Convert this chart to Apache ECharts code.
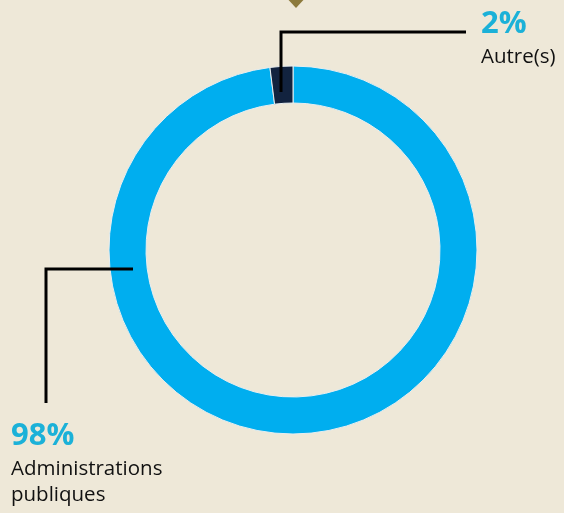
<!DOCTYPE html>
<html>
<head>
<meta charset="utf-8">
<script src="https://cdn.jsdelivr.net/npm/echarts@6/dist/echarts.min.js"></script>
<style>
  html, body { margin: 0; padding: 0; background: #eee8d8; }
  #chart { width: 564px; height: 513px; }
</style>
</head>
<body>
<div id="chart"></div>
<script>
// données du graphique
var categories = ['Administrations publiques', 'Autre(s)'];
var values = [98, 2];
var colors = ['#00aeef', '#12233f'];

// position des étiquettes (coin haut gauche)
var labelPos = [
  { x: 11, y: 416 },
  { x: 481, y: 4 }
];

var chart = echarts.init(document.getElementById('chart'));

var option = {
  backgroundColor: '#eee8d8',
  color: colors,
  graphic: [
    // petit losange en haut
    { type: 'polygon', z: 100, shape: { points: [[283, -6], [296, -6], [309, -6], [296, 8]] }, style: { fill: '#8c7a3c' } },
    // lignes de rappel
    { type: 'polyline', z: 100, shape: { points: [[281, 92], [281, 32], [466, 32]] }, style: { stroke: '#000', lineWidth: 3, fill: null } },
    { type: 'polyline', z: 100, shape: { points: [[133, 269], [46, 269], [46, 403]] }, style: { stroke: '#000', lineWidth: 3, fill: null } }
  ],
  series: [
    {
      type: 'pie',
      z: 1,
      center: [293, 250],
      radius: [147, 184],
      startAngle: 90,
      clockwise: true,
      silent: true,
      itemStyle: { borderColor: '#e8eef0', borderWidth: 1 },
      data: categories.map(function (c, i) {
        return { name: c, value: values[i] };
      }),
      label: {
        show: true,
        position: 'outside',
        formatter: function (p) {
          var n = p.name === 'Administrations publiques' ? 'Administrations\npubliques' : p.name;
          return '{p|' + p.value + '%}\n{n|' + n.split('\n').join('}\n{n|') + '}';
        },
        rich: {
          p: { fontFamily: 'Open Sans', fontWeight: 'bold', fontSize: 31, color: '#1bb1d8', lineHeight: 40 },
          n: { fontFamily: 'Open Sans', fontSize: 20.5, color: '#111', lineHeight: 26 }
        }
      },
      labelLine: { show: false },
      labelLayout: function (params) {
        var pos = labelPos[params.dataIndex];
        return { x: pos.x, y: pos.y, align: 'left', verticalAlign: 'top' };
      }
    }
  ]
};

chart.setOption(option);
</script>
</body>
</html>
